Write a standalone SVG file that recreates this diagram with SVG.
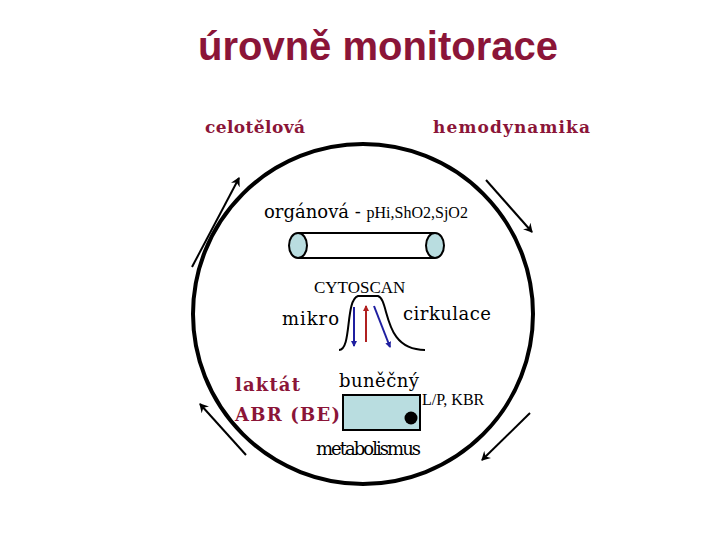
<svg xmlns="http://www.w3.org/2000/svg" width="720" height="540" viewBox="0 0 720 540">
<style>
.ln{stroke:#000;stroke-width:2;fill:none}
.ds{font-family:'DejaVu Serif',serif}
</style>
<defs>
<marker id="ah" markerWidth="10" markerHeight="10" refX="8" refY="5" orient="auto" markerUnits="userSpaceOnUse"><path d="M0,0 L9,5 L0,10 L3,5 Z" fill="#000"/></marker>
<marker id="ab" markerWidth="6" markerHeight="6" refX="5" refY="3" orient="auto" markerUnits="userSpaceOnUse"><path d="M0,0 L6,3 L0,6 Z" fill="#1f1fa0"/></marker>
<marker id="ar" markerWidth="6" markerHeight="6" refX="5" refY="3" orient="auto" markerUnits="userSpaceOnUse"><path d="M0,0 L6,3 L0,6 Z" fill="#b02020"/></marker>
</defs>
<rect width="720" height="540" fill="#fff"/>
<text x="378" y="60" text-anchor="middle" font-family="'Liberation Sans', sans-serif" font-weight="bold" font-size="40" fill="#8b1538">úrovně monitorace</text>
<g id="ring"><circle cx="363" cy="314" r="170" fill="none" stroke="#000" stroke-width="4"/></g>
<g id="connectors">
<line class="ln" x1="192" y1="267" x2="239" y2="178" marker-end="url(#ah)"/>
<line class="ln" x1="486" y1="180" x2="532" y2="232" marker-end="url(#ah)"/>
<line class="ln" x1="530" y1="413" x2="482" y2="460" marker-end="url(#ah)"/>
<line class="ln" x1="246" y1="455" x2="200" y2="404" marker-end="url(#ah)"/>
</g>
<g font-family="'Liberation Serif', 'DejaVu Serif', serif">
<g id="celotelova"><text class="ds" x="205" y="133" fill="#8b1538" font-weight="bold" font-size="17" textLength="100">celotělová</text></g>
<g id="hemodynamika"><text class="ds" x="433" y="133" fill="#8b1538" font-weight="bold" font-size="17" textLength="157">hemodynamika</text></g>
<g id="organova">
<text x="264" y="218"><tspan class="ds" font-size="18">orgánová - </tspan><tspan font-size="16">pHi,ShO2,SjO2</tspan></text>
<path d="M298,233 H435 M298,258 H435" stroke="#000" stroke-width="2"/>
<ellipse cx="298" cy="245.5" rx="9" ry="12.5" fill="#b9dde0" stroke="#000" stroke-width="2"/>
<ellipse cx="435" cy="245.5" rx="9" ry="12.5" fill="#b9dde0" stroke="#000" stroke-width="2"/>
</g>
<g id="mikro">
<text x="314" y="293" font-size="17">CYTOSCAN</text>
<text class="ds" x="282" y="325" font-size="18" textLength="57">mikro</text>
<text class="ds" x="403" y="320" font-size="18" textLength="88">cirkulace</text>
<path d="M339,350 C352,350 345,300 358,296 L378,296 C390,300 382,350 425,350" fill="none" stroke="#000" stroke-width="2"/>
<line x1="354" y1="307" x2="354" y2="346" stroke="#1f1fa0" stroke-width="2" marker-end="url(#ab)"/>
<line x1="366" y1="342" x2="366" y2="306" stroke="#b02020" stroke-width="2" marker-end="url(#ar)"/>
<line x1="374" y1="306" x2="390" y2="347" stroke="#1f1fa0" stroke-width="2" marker-end="url(#ab)"/>
</g>
<g id="bunecny">
<text class="ds" x="339" y="387" font-size="18" textLength="80">buněčný</text>
<rect x="343" y="395" width="77" height="35" fill="#b9dde0" stroke="#000" stroke-width="2"/>
<circle cx="411" cy="418" r="6.5" fill="#000"/>
<text x="422" y="405" font-size="16">L/P, KBR</text>
<text class="ds" x="316" y="455" font-size="18" textLength="105">metabolismus</text>
<text class="ds" x="235" y="391" fill="#8b1538" font-weight="bold" font-size="18" textLength="65">laktát</text>
<text class="ds" x="235" y="421" fill="#8b1538" font-weight="bold" font-size="18" textLength="105">ABR (BE)</text>
</g>
</g>
</svg>
